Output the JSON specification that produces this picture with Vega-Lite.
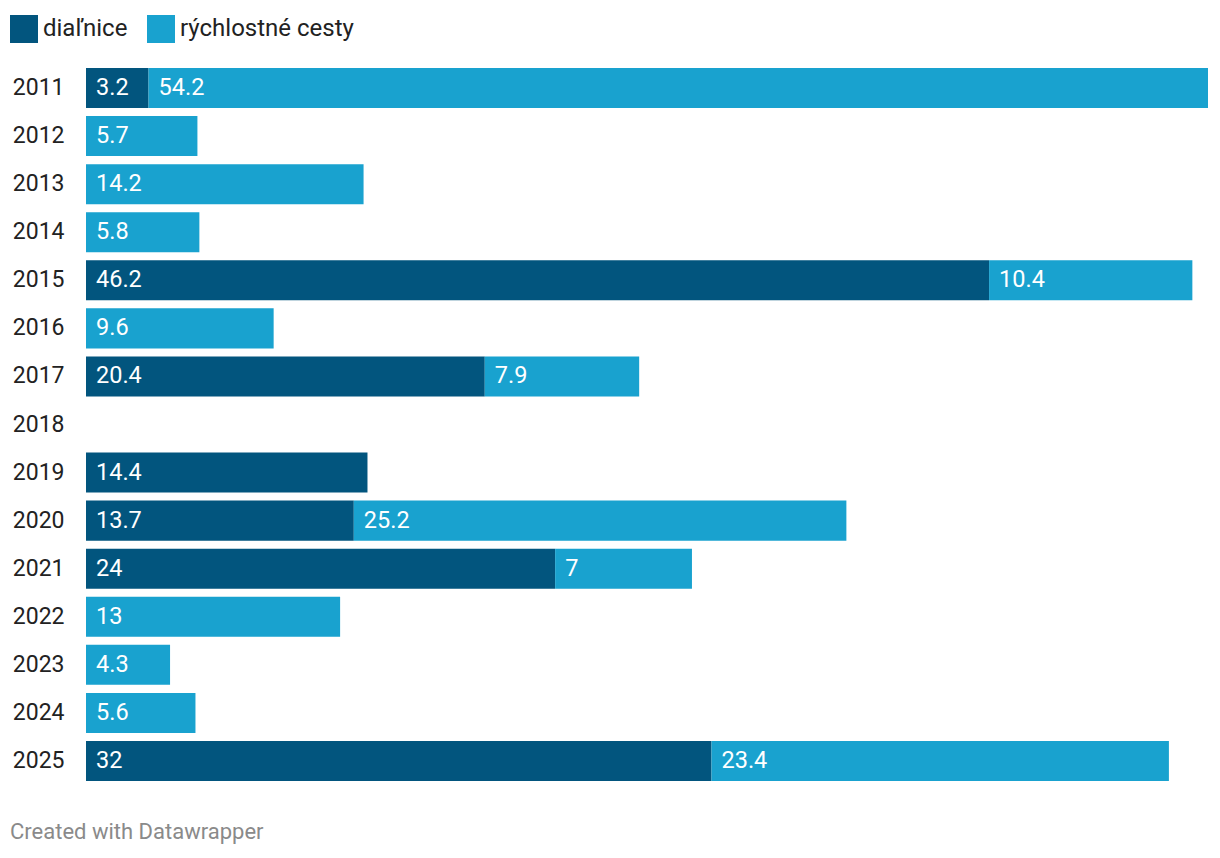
{
  "$schema": "https://vega.github.io/schema/vega-lite/v6.json",
  "autosize": {"type": "none"},
  "padding": {"left": 86, "top": 64, "right": 12, "bottom": 73},
  "width": 1122,
  "height": 721,
  "background": "white",
  "config": {
    "font": "Roboto",
    "view": {"stroke": null}
  },
  "title": {
    "text": "Created with Datawrapper",
    "orient": "bottom",
    "anchor": "start",
    "frame": "group",
    "dx": -76,
    "offset": 37,
    "fontSize": 22,
    "fontWeight": "normal",
    "color": "#8a8a8a",
    "font": "Roboto"
  },
  "data": {
    "values": [
      {"year": "2011", "type": "diaľnice", "value": 3.2},
      {"year": "2011", "type": "rýchlostné cesty", "value": 54.2},
      {"year": "2012", "type": "rýchlostné cesty", "value": 5.7},
      {"year": "2013", "type": "rýchlostné cesty", "value": 14.2},
      {"year": "2014", "type": "rýchlostné cesty", "value": 5.8},
      {"year": "2015", "type": "diaľnice", "value": 46.2},
      {"year": "2015", "type": "rýchlostné cesty", "value": 10.4},
      {"year": "2016", "type": "rýchlostné cesty", "value": 9.6},
      {"year": "2017", "type": "diaľnice", "value": 20.4},
      {"year": "2017", "type": "rýchlostné cesty", "value": 7.9},
      {"year": "2019", "type": "diaľnice", "value": 14.4},
      {"year": "2020", "type": "diaľnice", "value": 13.7},
      {"year": "2020", "type": "rýchlostné cesty", "value": 25.2},
      {"year": "2021", "type": "diaľnice", "value": 24},
      {"year": "2021", "type": "rýchlostné cesty", "value": 7},
      {"year": "2022", "type": "rýchlostné cesty", "value": 13},
      {"year": "2023", "type": "rýchlostné cesty", "value": 4.3},
      {"year": "2024", "type": "rýchlostné cesty", "value": 5.6},
      {"year": "2025", "type": "diaľnice", "value": 32},
      {"year": "2025", "type": "rýchlostné cesty", "value": 23.4}
    ]
  },
  "transform": [
    {"stack": "value", "groupby": ["year"], "sort": [{"field": "type", "order": "ascending"}], "as": ["x0", "x1"]}
  ],
  "encoding": {
    "y": {
      "field": "year",
      "type": "nominal",
      "scale": {
        "domain": ["2011","2012","2013","2014","2015","2016","2017","2018","2019","2020","2021","2022","2023","2024","2025"],
        "paddingInner": 0.167,
        "paddingOuter": 0.083
      },
      "axis": {
        "title": null,
        "domain": false,
        "ticks": false,
        "labelPadding": 22,
        "labelFontSize": 23,
        "labelColor": "#222222",
        "labelFont": "Roboto"
      }
    }
  },
  "layer": [
    {
      "mark": {"type": "bar"},
      "encoding": {
        "x": {"field": "x0", "type": "quantitative", "scale": {"domain": [0, 57.4], "nice": false, "zero": true}, "axis": null},
        "x2": {"field": "x1"},
        "color": {
          "field": "type",
          "type": "nominal",
          "scale": {"domain": ["diaľnice", "rýchlostné cesty"], "range": ["#02557e", "#19a2cf"]},
          "legend": {
            "title": null,
            "orient": "none",
            "direction": "horizontal",
            "legendX": -76,
            "legendY": -49,
            "symbolType": "square",
            "symbolSize": 784,
            "symbolStrokeWidth": 0,
            "symbolOpacity": 1,
            "labelFontSize": 24,
            "labelFont": "Roboto",
            "labelColor": "#222222",
            "labelOffset": 5,
            "labelLimit": 500,
            "columnPadding": 19,
            "padding": 0
          }
        }
      }
    },
    {
      "mark": {"type": "text", "align": "left", "baseline": "middle", "dx": 10, "color": "white", "fontSize": 23.5, "font": "Roboto"},
      "encoding": {
        "x": {"field": "x0", "type": "quantitative"},
        "text": {"field": "value", "type": "quantitative", "format": ".1~f"}
      }
    }
  ]
}
